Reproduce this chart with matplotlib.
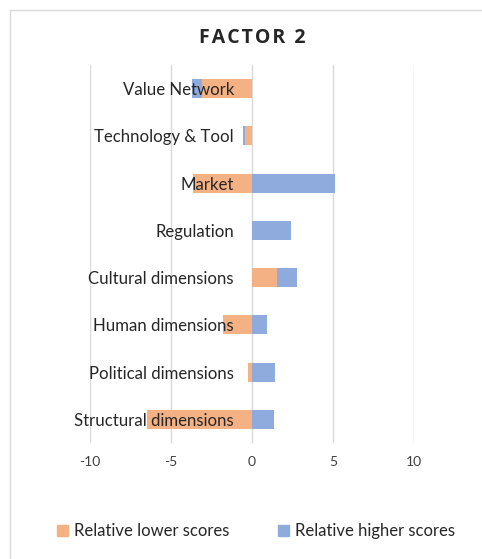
import matplotlib
matplotlib.use("Agg")
import matplotlib.pyplot as plt
from matplotlib.patches import Rectangle, Patch
import numpy as np

categories = ["Value Network", "Technology & Tool", "Market", "Regulation",
              "Cultural dimensions", "Human dimensions", "Political dimensions",
              "Structural dimensions"]
lower_scores = [-3.1, -0.45, -3.65, 0.0, 1.55, -1.8, -0.25, -6.5]
higher_scores = [-0.6, -0.1, 5.15, 2.4, 1.2, 0.9, 1.45, 1.35]
x_ticks = [-10, -5, 0, 5, 10]

ORANGE = "#F4B183"
BLUE = "#8FAADC"
GRID = "#D9D9D9"
TXT = "#262626"
FONT = ["Lato", "DejaVu Sans"]

W, H = 482, 559
fig = plt.figure(figsize=(W / 100, H / 100), dpi=100)
fig.patch.set_facecolor("white")

# chart-area border (only top/left visible in the crop)
fig.add_artist(Rectangle((10 / W, -0.1), 1.2, (H - 10) / H + 0.1,
                         transform=fig.transFigure, fill=False,
                         edgecolor=GRID, linewidth=1.0))

ax = fig.add_axes([90 / W, (H - 443) / H, (414 - 90) / W, (443 - 65) / H])
ax.spines["left"].set_position(("data", 0))
for s in ax.spines.values():
    s.set_visible(False)

y = np.arange(len(categories))
lower = np.array(lower_scores)
higher = np.array(higher_scores)
left_blue = np.where(np.sign(lower) == np.sign(higher), lower, 0.0)

for xt in x_ticks:
    ax.axvline(xt, color=GRID, linewidth=1.0, zorder=0)

ax.barh(y, lower, height=0.4, color=ORANGE, zorder=1, label="Relative lower scores")
ax.barh(y, higher, left=left_blue, height=0.4, color=BLUE, zorder=1,
        label="Relative higher scores")

ax.set_xlim(-10, 10)
ax.set_ylim(len(categories) - 0.5, -0.5)
ax.set_xticks(x_ticks)
ax.set_xticklabels([str(t) for t in x_ticks], fontfamily=FONT, fontsize=10, color="#404040")
ax.set_yticks(y)
ax.set_yticklabels(categories, fontfamily=FONT, fontsize=12.1, color=TXT)
ax.tick_params(axis="y", length=0, pad=13)
ax.tick_params(axis="x", length=0, pad=9)
ax.set_facecolor("none")
ax.xaxis.set_zorder(3)
ax.yaxis.set_zorder(3)

hs = "\u200a"
fig.text(252 / W, 1 - 38 / H, hs.join("FACTOR 2"),
         ha="center", va="center", fontsize=14, fontweight="bold",
         fontfamily=["Open Sans", "DejaVu Sans"], color=TXT)

handles = [Patch(color=ORANGE), Patch(color=BLUE)]
fig.legend(handles, ["Relative lower scores", "Relative higher scores"],
           loc="center", bbox_to_anchor=(256 / W, 1 - 531 / H), ncol=2,
           frameon=False, prop={"family": FONT, "size": 12.0},
           handlelength=0.65, handleheight=0.65, handletextpad=0.35,
           columnspacing=2.9, labelcolor=TXT)

fig.savefig("out.png", dpi=100, facecolor="white")
